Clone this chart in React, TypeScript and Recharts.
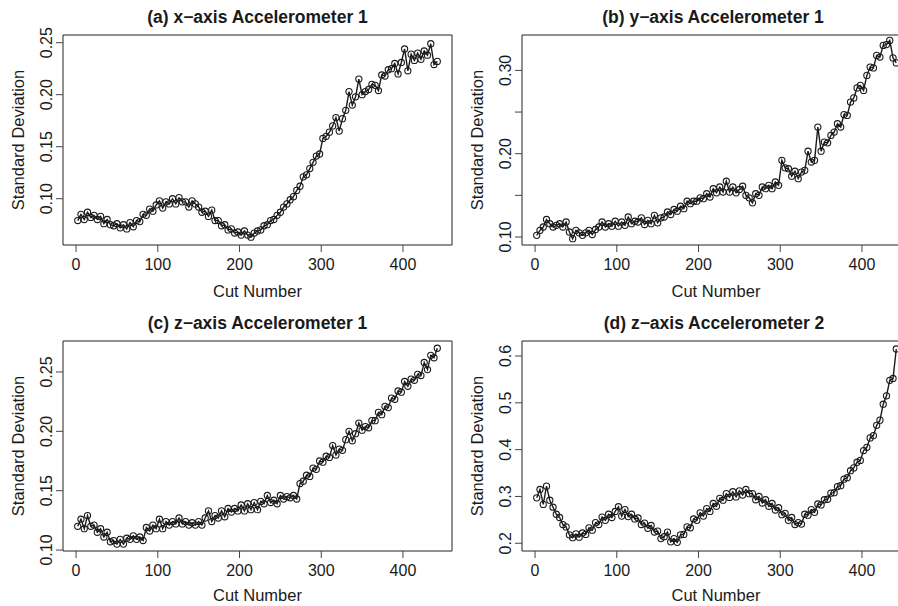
import React from 'react';
import { LineChart, Line, XAxis, YAxis, ReferenceArea } from 'recharts';

const FONT = '"Liberation Sans", Arial, Helvetica, sans-serif';
const INK = '#1a1a1a';

// cut numbers (every 4th cut)
const cuts = [
  2, 6, 10, 14, 18, 22, 26, 30, 34, 38,
  42, 46, 50, 54, 58, 62, 66, 70, 74, 78,
  82, 86, 90, 94, 98, 102, 106, 110, 114, 118,
  122, 126, 130, 134, 138, 142, 146, 150, 154, 158,
  162, 166, 170, 174, 178, 182, 186, 190, 194, 198,
  202, 206, 210, 214, 218, 222, 226, 230, 234, 238,
  242, 246, 250, 254, 258, 262, 266, 270, 274, 278,
  282, 286, 290, 294, 298, 302, 306, 310, 314, 318,
  322, 326, 330, 334, 338, 342, 346, 350, 354, 358,
  362, 366, 370, 374, 378, 382, 386, 390, 394, 398,
  402, 406, 410, 414, 418, 422, 426, 430, 434, 438, 442,
];

const xAccel1 = [
  0.079, 0.085, 0.080, 0.087, 0.082, 0.084, 0.080, 0.083, 0.076, 0.080,
  0.075, 0.074, 0.076, 0.072, 0.075, 0.071, 0.077, 0.073, 0.079, 0.078,
  0.085, 0.084, 0.090, 0.088, 0.094, 0.098, 0.091, 0.097, 0.095, 0.100,
  0.095, 0.101, 0.097, 0.097, 0.092, 0.098, 0.095, 0.092, 0.087, 0.088,
  0.083, 0.089, 0.079, 0.079, 0.074, 0.075, 0.070, 0.071, 0.067, 0.068,
  0.065, 0.069, 0.065, 0.063, 0.067, 0.069, 0.070, 0.074, 0.075, 0.079,
  0.080, 0.084, 0.087, 0.092, 0.095, 0.099, 0.102, 0.108, 0.112, 0.121,
  0.123, 0.129, 0.135, 0.141, 0.143, 0.158, 0.160, 0.164, 0.170, 0.178,
  0.165, 0.177, 0.185, 0.203, 0.190, 0.198, 0.215, 0.200, 0.203, 0.205,
  0.210, 0.209, 0.204, 0.219, 0.218, 0.224, 0.225, 0.230, 0.220, 0.231,
  0.244, 0.223, 0.239, 0.233, 0.240, 0.234, 0.242, 0.238, 0.249, 0.229, 0.232,
];

const yAccel1 = [
  0.102, 0.108, 0.112, 0.121, 0.116, 0.112, 0.114, 0.116, 0.112, 0.118,
  0.106, 0.098, 0.108, 0.105, 0.102, 0.105, 0.108, 0.103, 0.109, 0.112,
  0.118, 0.112, 0.116, 0.113, 0.119, 0.113, 0.118, 0.114, 0.124, 0.116,
  0.119, 0.118, 0.123, 0.115, 0.120, 0.116, 0.126, 0.117, 0.123, 0.124,
  0.130, 0.127, 0.133, 0.131, 0.137, 0.134, 0.143, 0.140, 0.143, 0.143,
  0.147, 0.146, 0.152, 0.148, 0.158, 0.153, 0.160, 0.154, 0.167, 0.154,
  0.160, 0.153, 0.157, 0.161, 0.150, 0.147, 0.141, 0.152, 0.150, 0.160,
  0.158, 0.162, 0.158, 0.166, 0.162, 0.192, 0.183, 0.182, 0.173, 0.179,
  0.170, 0.178, 0.180, 0.203, 0.190, 0.192, 0.232, 0.203, 0.214, 0.213,
  0.222, 0.226, 0.236, 0.232, 0.247, 0.246, 0.262, 0.267, 0.279, 0.282,
  0.276, 0.294, 0.304, 0.303, 0.318, 0.316, 0.330, 0.331, 0.336, 0.315, 0.309,
];

const zAccel1 = [
  0.120, 0.126, 0.118, 0.129, 0.120, 0.121, 0.115, 0.118, 0.111, 0.115,
  0.107, 0.108, 0.105, 0.109, 0.105, 0.110, 0.109, 0.112, 0.109, 0.111,
  0.108, 0.119, 0.116, 0.121, 0.118, 0.126, 0.118, 0.124, 0.121, 0.124,
  0.122, 0.127, 0.122, 0.124, 0.121, 0.123, 0.121, 0.124, 0.121, 0.127,
  0.133, 0.124, 0.129, 0.127, 0.133, 0.128, 0.135, 0.132, 0.135, 0.133,
  0.138, 0.133, 0.139, 0.134, 0.140, 0.134, 0.141, 0.139, 0.146, 0.140,
  0.142, 0.139, 0.146, 0.143, 0.145, 0.144, 0.146, 0.143, 0.156, 0.158,
  0.163, 0.162, 0.169, 0.168, 0.175, 0.174, 0.179, 0.178, 0.188, 0.180,
  0.185, 0.184, 0.193, 0.200, 0.192, 0.198, 0.207, 0.201, 0.204, 0.203,
  0.209, 0.209, 0.216, 0.214, 0.221, 0.220, 0.228, 0.227, 0.234, 0.233,
  0.242, 0.238, 0.244, 0.243, 0.248, 0.247, 0.258, 0.252, 0.264, 0.262, 0.270,
];

const zAccel2 = [
  0.297, 0.315, 0.283, 0.322, 0.292, 0.277, 0.262, 0.255, 0.240, 0.235,
  0.218, 0.212, 0.220, 0.213, 0.222, 0.219, 0.233, 0.228, 0.244, 0.240,
  0.256, 0.249, 0.262, 0.255, 0.268, 0.278, 0.258, 0.272, 0.257, 0.262,
  0.252, 0.254, 0.240, 0.243, 0.232, 0.238, 0.224, 0.226, 0.210, 0.214,
  0.224, 0.203, 0.210, 0.202, 0.218, 0.219, 0.235, 0.233, 0.252, 0.249,
  0.265, 0.258, 0.274, 0.268, 0.285, 0.279, 0.296, 0.292, 0.306, 0.298,
  0.310, 0.299, 0.312, 0.303, 0.315, 0.306, 0.306, 0.293, 0.300, 0.286,
  0.293, 0.279, 0.285, 0.271, 0.276, 0.261, 0.264, 0.249, 0.255, 0.240,
  0.244, 0.241, 0.262, 0.260, 0.272, 0.266, 0.284, 0.282, 0.293, 0.294,
  0.307, 0.308, 0.321, 0.323, 0.337, 0.340, 0.355, 0.361, 0.373, 0.377,
  0.398, 0.405, 0.425, 0.430, 0.452, 0.463, 0.497, 0.515, 0.548, 0.552, 0.615,
];

const xTicks = [0, 100, 200, 300, 400];
const ticksA = [0.1, 0.15, 0.2, 0.25];
const labelsA = ['0.10', '0.15', '0.20', '0.25'];
const ticksB = [0.1, 0.15, 0.2, 0.25, 0.3];
const labelsB = ['0.10', '', '0.20', '', '0.30'];
const ticksC = [0.1, 0.15, 0.2, 0.25];
const labelsC = ['0.10', '0.15', '0.20', '0.25'];
const ticksD = [0.2, 0.3, 0.4, 0.5, 0.6];
const labelsD = ['0.2', '0.3', '0.4', '0.5', '0.6'];

const titles = [
  '(a) x\u2212axis Accelerometer 1',
  '(b) y\u2212axis Accelerometer 1',
  '(c) z\u2212axis Accelerometer 1',
  '(d) z\u2212axis Accelerometer 2',
];

// every panel shares the same inner layout
const CHART_W = 460;
const CHART_H = 303;
const PLOT_L = 63;
const PLOT_T = 35;
const PLOT_W = 389;
const PLOT_H = 210;
const X_DOMAIN = [-16, 460];

const Panel = ({ values, yDomain, yTicks, yLabels, left, top }) => {
  const data = cuts.map((c, i) => ({ cut: c, sd: values[i] }));
  return (
    <div style={{ position: 'absolute', left, top }}>
      <LineChart
        width={CHART_W}
        height={CHART_H}
        data={data}
        margin={{ top: PLOT_T, right: CHART_W - PLOT_L - PLOT_W, bottom: 0, left: 0 }}
      >
        <XAxis
          type="number"
          dataKey="cut"
          domain={X_DOMAIN}
          ticks={xTicks}
          interval={0}
          allowDataOverflow
          axisLine={false}
          tickSize={7}
          tickLine={{ stroke: '#444' }}
          height={CHART_H - PLOT_T - PLOT_H}
          tick={(p) => (
            <text x={p.x} y={PLOT_T + PLOT_H + 25} textAnchor="middle" fontSize={16} fill={INK} fontFamily={FONT}>
              {p.payload.value}
            </text>
          )}
        />
        <YAxis
          type="number"
          domain={yDomain}
          ticks={yTicks}
          interval={0}
          allowDataOverflow
          width={PLOT_L}
          axisLine={false}
          tickSize={7}
          tickLine={{ stroke: '#444' }}
          tick={(p) => (
            <g transform={`translate(${PLOT_L - 11}, ${p.y})`}>
              <text transform="rotate(-90)" textAnchor="middle" fontSize={16} fill={INK} fontFamily={FONT}>
                {yLabels[yTicks.indexOf(p.payload.value)]}
              </text>
            </g>
          )}
        />
        <ReferenceArea
          x1={X_DOMAIN[0]}
          x2={X_DOMAIN[1]}
          y1={yDomain[0]}
          y2={yDomain[1]}
          fill="none"
          stroke="#222"
          strokeWidth={1}
          ifOverflow="visible"
        />
        <Line
          type="linear"
          dataKey="sd"
          stroke={INK}
          strokeWidth={1.4}
          dot={{ r: 3.1, stroke: INK, strokeWidth: 1.1, fill: 'none' }}
          isAnimationActive={false}
        />
      </LineChart>
    </div>
  );
};

const App = () => {
  const txt = { fontFamily: FONT, fill: INK };
  return (
    <div style={{ position: 'absolute', left: 0, top: 0, width: 898, height: 606, overflow: 'hidden', background: '#fff' }}>
      <Panel values={xAccel1} yDomain={[0.0555, 0.2574]} yTicks={ticksA} yLabels={labelsA} left={0} top={0} />
      <Panel values={yAccel1} yDomain={[0.0904, 0.3425]} yTicks={ticksB} yLabels={labelsB} left={459} top={0} />
      <Panel values={zAccel1} yDomain={[0.0992, 0.2761]} yTicks={ticksC} yLabels={labelsC} left={0} top={306} />
      <Panel values={zAccel2} yDomain={[0.1835, 0.632]} yTicks={ticksD} yLabels={labelsD} left={459} top={306} />
      <svg width={898} height={606} style={{ position: 'absolute', left: 0, top: 0, pointerEvents: 'none' }}>
        <text x={257.5} y={22.5} textAnchor="middle" fontSize={17.5} fontWeight="bold" {...txt}>{titles[0]}</text>
        <text x={713} y={22.5} textAnchor="middle" fontSize={17.5} fontWeight="bold" {...txt}>{titles[1]}</text>
        <text x={257.5} y={328.5} textAnchor="middle" fontSize={17.5} fontWeight="bold" {...txt}>{titles[2]}</text>
        <text x={714} y={328.5} textAnchor="middle" fontSize={17.5} fontWeight="bold" {...txt}>{titles[3]}</text>

        <text x={257.5} y={296.5} textAnchor="middle" fontSize={16.5} {...txt}>Cut Number</text>
        <text x={716} y={296.5} textAnchor="middle" fontSize={16.5} {...txt}>Cut Number</text>
        <text x={257.5} y={601} textAnchor="middle" fontSize={16.5} {...txt}>Cut Number</text>
        <text x={716} y={601} textAnchor="middle" fontSize={16.5} {...txt}>Cut Number</text>

        <text transform="translate(24, 140) rotate(-90)" textAnchor="middle" fontSize={16.5} {...txt}>Standard Deviation</text>
        <text transform="translate(483, 140) rotate(-90)" textAnchor="middle" fontSize={16.5} {...txt}>Standard Deviation</text>
        <text transform="translate(24, 446) rotate(-90)" textAnchor="middle" fontSize={16.5} {...txt}>Standard Deviation</text>
        <text transform="translate(483, 446) rotate(-90)" textAnchor="middle" fontSize={16.5} {...txt}>Standard Deviation</text>
      </svg>
    </div>
  );
};

export default App;
